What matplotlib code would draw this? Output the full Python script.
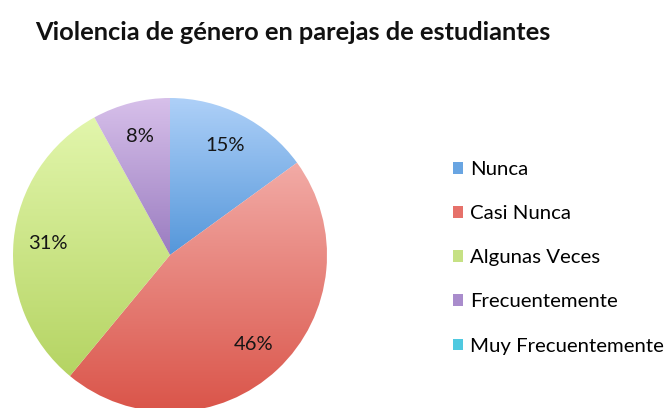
import numpy as np
import matplotlib
matplotlib.use('Agg')
import matplotlib.pyplot as plt
import matplotlib.patches as patches
from matplotlib.colors import LinearSegmentedColormap

# data
categorias = ['Nunca', 'Casi Nunca', 'Algunas Veces', 'Frecuentemente', 'Muy Frecuentemente']
porcentajes = [15, 46, 31, 8, 0]
titulo = 'Violencia de género en parejas de estudiantes'

# top / bottom colours of each wedge gradient
col_top = ['#aed0f8', '#f2aba6', '#e2f6ac', '#d7c0ea', '#8fe0ef']
col_bot = ['#5597da', '#da5449', '#b5d463', '#9a7cc0', '#45c3dc']
col_leg = ['#69a5e2', '#e6716a', '#c6e184', '#a98ccc', '#4fc9e0']

plt.rcParams['font.family'] = ['Lato', 'DejaVu Sans']

fig = plt.figure(figsize=(6.68, 4.08), dpi=100)
ax = fig.add_axes([13/668, -4/408, 314/668, 314/408])

vals = [v for v in porcentajes if v > 0]
wedges, textos = ax.pie(vals, startangle=90, counterclock=False, radius=1,
                        labels=None, wedgeprops=dict(linewidth=0))[:2]

for i, w in enumerate(wedges):
    w.set_facecolor('none')
    path = w.get_path()
    verts = w.get_patch_transform().transform(path.vertices)
    y0, y1 = verts[:, 1].min(), verts[:, 1].max()
    x0, x1 = verts[:, 0].min(), verts[:, 0].max()
    cmap = LinearSegmentedColormap.from_list('g%d' % i, [col_bot[i], col_top[i]])
    grad = np.linspace(0, 1, 256).reshape(-1, 1)
    im = ax.imshow(grad, cmap=cmap, origin='lower', aspect='auto',
                   extent=[x0, x1, y0, y1], zorder=1)
    im.set_clip_path(w)

# percentage labels
ang0 = 90.0
for i, v in enumerate(vals):
    mid = ang0 - 360.0 * v / 100 / 2
    ang0 -= 360.0 * v / 100
    r = 0.78
    ax.text(r*np.cos(np.radians(mid)), r*np.sin(np.radians(mid)), '%d%%' % v,
            ha='center', va='center', fontsize=14.5, color='#151515', zorder=3)

ax.set_xlim(-1.0, 1.0)
ax.set_ylim(-1.0, 1.0)
ax.set_aspect('equal')
ax.axis('off')

fig.text(35/668, 1 - 32/408, titulo, fontsize=18.3, fontweight='bold',
         ha='left', va='center', color='#111111')

handles = [patches.Patch(facecolor=c, edgecolor='none') for c in col_leg]
fig.legend(handles, categorias, loc='upper left', bbox_to_anchor=(453/668, 1 - 161/408),
           frameon=False, fontsize=14.7, labelspacing=1.33, handlelength=0.5,
           handleheight=0.5, handletextpad=0.35, borderpad=0, borderaxespad=0)

fig.savefig('out.png', dpi=100)
